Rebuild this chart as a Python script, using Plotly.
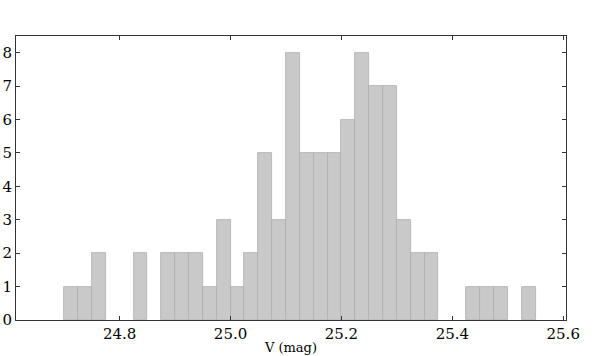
import plotly.graph_objects as go

# histogram bins (left edges, mag) and counts
bin_width = 0.025
bin_starts = [24.700, 24.725, 24.750, 24.775, 24.800, 24.825, 24.850, 24.875,
              24.900, 24.925, 24.950, 24.975, 25.000, 25.025, 25.050, 25.075,
              25.100, 25.125, 25.150, 25.175, 25.200, 25.225, 25.250, 25.275,
              25.300, 25.325, 25.350, 25.375, 25.400, 25.425, 25.450, 25.475,
              25.500, 25.525]
counts = [1, 1, 2, 0, 0, 2, 0, 2,
          2, 2, 1, 3, 1, 2, 5, 3,
          8, 5, 5, 5, 6, 8, 7, 7,
          3, 2, 2, 0, 0, 1, 1, 1,
          0, 1]
x_ticks = [24.8, 25.0, 25.2, 25.4, 25.6]
x_tick_labels = ["24.8", "25.0", "25.2", "25.4", "25.6"]
y_ticks = [0, 1, 2, 3, 4, 5, 6, 7, 8]

# empty bins get no bar (otherwise the outline shows as a flat line)
heights = [c if c > 0 else None for c in counts]

fig = go.Figure()
fig.add_trace(go.Bar(
    x=bin_starts, y=heights, width=bin_width, offset=0,
    marker=dict(color="#c9c9c9", line=dict(color="#adadad", width=0.8)),
))

family = "DejaVu Serif, Liberation Serif, serif"
font = dict(family=family, size=15, color="black")
axis_common = dict(
    showline=True, linecolor="#333333", linewidth=1, mirror="ticks",
    ticks="inside", ticklen=4, tickcolor="#333333", showgrid=False,
    zeroline=False, tickfont=font, automargin=False,
)
fig.update_layout(
    width=598, height=356,
    margin=dict(l=16, r=32, t=36, b=36),
    paper_bgcolor="white", plot_bgcolor="white",
    showlegend=False, bargap=0,
    xaxis=dict(range=[24.613, 25.605], tickvals=x_ticks, ticktext=x_tick_labels,
               title=dict(text="V (mag)", font=dict(family=family, size=13, color="black"),
                          standoff=0),
               **axis_common),
    yaxis=dict(range=[0, 8.5], tickvals=y_ticks, ticklabelstandoff=0, **axis_common),
)
# drop the default page margin so the figure sits at the window's corner
fig.write_html("out.html", config={"displayModeBar": False},
               post_script="document.body.style.margin='0';")
